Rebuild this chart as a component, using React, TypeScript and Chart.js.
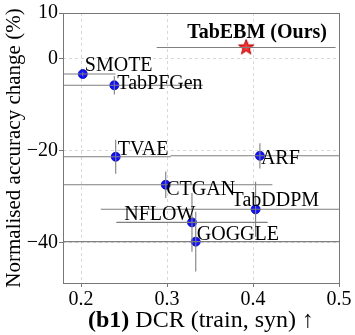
import { useEffect, useRef } from "react";
import { Chart, registerables } from "chart.js";
Chart.register(...registerables);

const methods = ["TabEBM (Ours)", "SMOTE", "TabPFGen", "TVAE", "ARF", "CTGAN", "TabDDPM", "NFLOW", "GOGGLE"];
const dcr = [0.392, 0.202, 0.2387, 0.2403, 0.408, 0.2985, 0.403, 0.329, 0.3334];
const accChange = [2.5, -3.3, -5.74, -21.3, -21.1, -27.4, -32.75, -35.6, -39.8];
const dcrErr = [0.104, 0.038, 0.103, 0.064, 0.104, 0.124, 0.18, 0.088, 0.2];
const accErr = [0.4, 0.5, 2.0, 3.7, 2.75, 2.9, 6.0, 6.4, 6.5];
const xTicks = [0.2, 0.3, 0.4, 0.5];
const yTicks = [-40, -20, 0, 10];
// label offsets in px (dx, dy of text baseline-left from point)
const labelOffsets: [number, number][] = [
  [-59, -9.3], [2, -3.5], [3, 3.3], [2, -1.7], [1, 8.5], [0.5, 10.7], [-24, -3.3], [-67.7, -2.7], [1, -2],
];

const SERIF = "'Liberation Serif', 'Times New Roman', serif";

function makeStar(): HTMLCanvasElement {
  const c = document.createElement("canvas");
  const s = 18;
  c.width = s; c.height = s;
  const g = c.getContext("2d")!;
  const cx = s / 2, cy = s / 2, R = 8, r = 3.3;
  g.beginPath();
  for (let i = 0; i < 10; i++) {
    const ang = -Math.PI / 2 + (i * Math.PI) / 5;
    const rad = i % 2 === 0 ? R : r;
    const px = cx + rad * Math.cos(ang), py = cy + rad * Math.sin(ang);
    if (i === 0) g.moveTo(px, py); else g.lineTo(px, py);
  }
  g.closePath();
  g.fillStyle = "#ff2a2a";
  g.fill();
  g.strokeStyle = "#b00000";
  g.lineWidth = 1;
  g.stroke();
  return c;
}

const errorBarPlugin = {
  id: "errbars",
  afterDatasetsDraw(chart: any) {
    const { ctx, chartArea, scales } = chart;
    const x = scales.x, y = scales.y;
    ctx.save();
    ctx.beginPath();
    ctx.rect(chartArea.left, chartArea.top, chartArea.right - chartArea.left, chartArea.bottom - chartArea.top);
    ctx.clip();
    ctx.strokeStyle = "#7f7f7f";
    ctx.lineWidth = 1.1;
    for (let i = 0; i < dcr.length; i++) {
      const px = x.getPixelForValue(dcr[i]);
      const py = y.getPixelForValue(accChange[i]);
      ctx.beginPath();
      ctx.moveTo(x.getPixelForValue(dcr[i] - dcrErr[i]), py);
      ctx.lineTo(x.getPixelForValue(dcr[i] + dcrErr[i]), py);
      ctx.moveTo(px, y.getPixelForValue(accChange[i] - accErr[i]));
      ctx.lineTo(px, y.getPixelForValue(accChange[i] + accErr[i]));
      ctx.stroke();
    }
    ctx.restore();
  },
  afterDraw(chart: any) {
    const { ctx, chartArea, scales } = chart;
    const x = scales.x, y = scales.y;
    ctx.save();
    // frame
    ctx.strokeStyle = "#777";
    ctx.lineWidth = 1;
    ctx.strokeRect(Math.round(chartArea.left) + 0.5, Math.round(chartArea.top) + 0.5,
      Math.round(chartArea.right - chartArea.left), Math.round(chartArea.bottom - chartArea.top));
    // labels
    ctx.fillStyle = "#000";
    ctx.textAlign = "left";
    ctx.textBaseline = "alphabetic";
    for (let i = 0; i < methods.length; i++) {
      const px = x.getPixelForValue(dcr[i]);
      const py = y.getPixelForValue(accChange[i]);
      ctx.font = (i === 0 ? "bold " : "") + "20px " + SERIF;
      ctx.fillText(methods[i], px + labelOffsets[i][0], py + labelOffsets[i][1]);
    }
    // x title
    const boldPart = "(b1)";
    const rest = " DCR (train, syn) \u2191";
    ctx.font = "bold 24px " + SERIF;
    const w1 = ctx.measureText(boldPart).width;
    ctx.font = "24px " + SERIF;
    const w2 = ctx.measureText(rest).width;
    const cx = (chartArea.left + chartArea.right) / 2;
    const startX = cx - (w1 + w2) / 2;
    const baseY = 327;
    ctx.font = "bold 24px " + SERIF;
    ctx.fillText(boldPart, startX, baseY);
    ctx.font = "24px " + SERIF;
    ctx.fillText(rest, startX + w1, baseY);
    ctx.restore();
  },
};

export default function App() {
  const ref = useRef<HTMLCanvasElement>(null);
  useEffect(() => {
    const star = makeStar();
    const chart = new Chart(ref.current!, {
      type: "scatter",
      data: {
        datasets: [
          {
            label: "methods",
            data: dcr.map((v, i) => ({ x: v, y: accChange[i] })),
            pointStyle: (c: any) => (c.dataIndex === 0 ? star : "circle"),
            pointRadius: 4.5,
            pointHoverRadius: 4.5,
            backgroundColor: "#1010ff",
            borderColor: "#0000b0",
            borderWidth: 0.8,
          } as any,
        ],
      },
      options: {
        responsive: false,
        animation: false,
        events: [],
        layout: { padding: { top: 10, right: 16, left: 0, bottom: 0 } },
        plugins: { legend: { display: false }, tooltip: { enabled: false } },
        scales: {
          x: {
            type: "linear",
            min: 0.179,
            max: 0.5,
            afterBuildTicks: (s: any) => { s.ticks = xTicks.map((v) => ({ value: v })); },
            afterFit: (s: any) => { s.height = 52; },
            ticks: {
              font: { family: SERIF, size: 20 },
              color: "#000",
              padding: 1,
              maxRotation: 0,
              autoSkip: false,
              callback: (v: any) => Number(v).toFixed(1),
            },
            grid: { color: "#d8d8d8", tickColor: "#777", tickLength: 4, tickBorderDash: [], lineWidth: 1 },
            border: { display: false, dash: [3, 3] },
          },
          y: {
            type: "linear",
            min: -48.8,
            max: 10,
            afterBuildTicks: (s: any) => { s.ticks = yTicks.map((v) => ({ value: v })); },
            afterFit: (s: any) => { s.width = 63; },
            ticks: {
              font: { family: SERIF, size: 20 },
              color: "#000",
              padding: 1,
              autoSkip: false,
              callback: (v: any) => (Number(v) < 0 ? "\u2212" + Math.abs(Number(v)) : String(v)),
            },
            grid: { color: "#d8d8d8", tickColor: "#777", tickLength: 4, tickBorderDash: [], lineWidth: 1 },
            border: { display: false, dash: [3, 3] },
            title: {
              display: true,
              text: "Normalised accuracy change (%)",
              font: { family: SERIF, size: 21 },
              color: "#000",
              padding: { top: 2, bottom: 0 },
            },
          },
        },
      },
      plugins: [errorBarPlugin],
    });
    return () => chart.destroy();
  }, []);
  return (
    <div style={{ position: "fixed", left: 0, top: 0, width: 355, height: 335, background: "#fff" }}>
      <canvas ref={ref} width={355} height={335} style={{ display: "block" }} />
    </div>
  );
}
